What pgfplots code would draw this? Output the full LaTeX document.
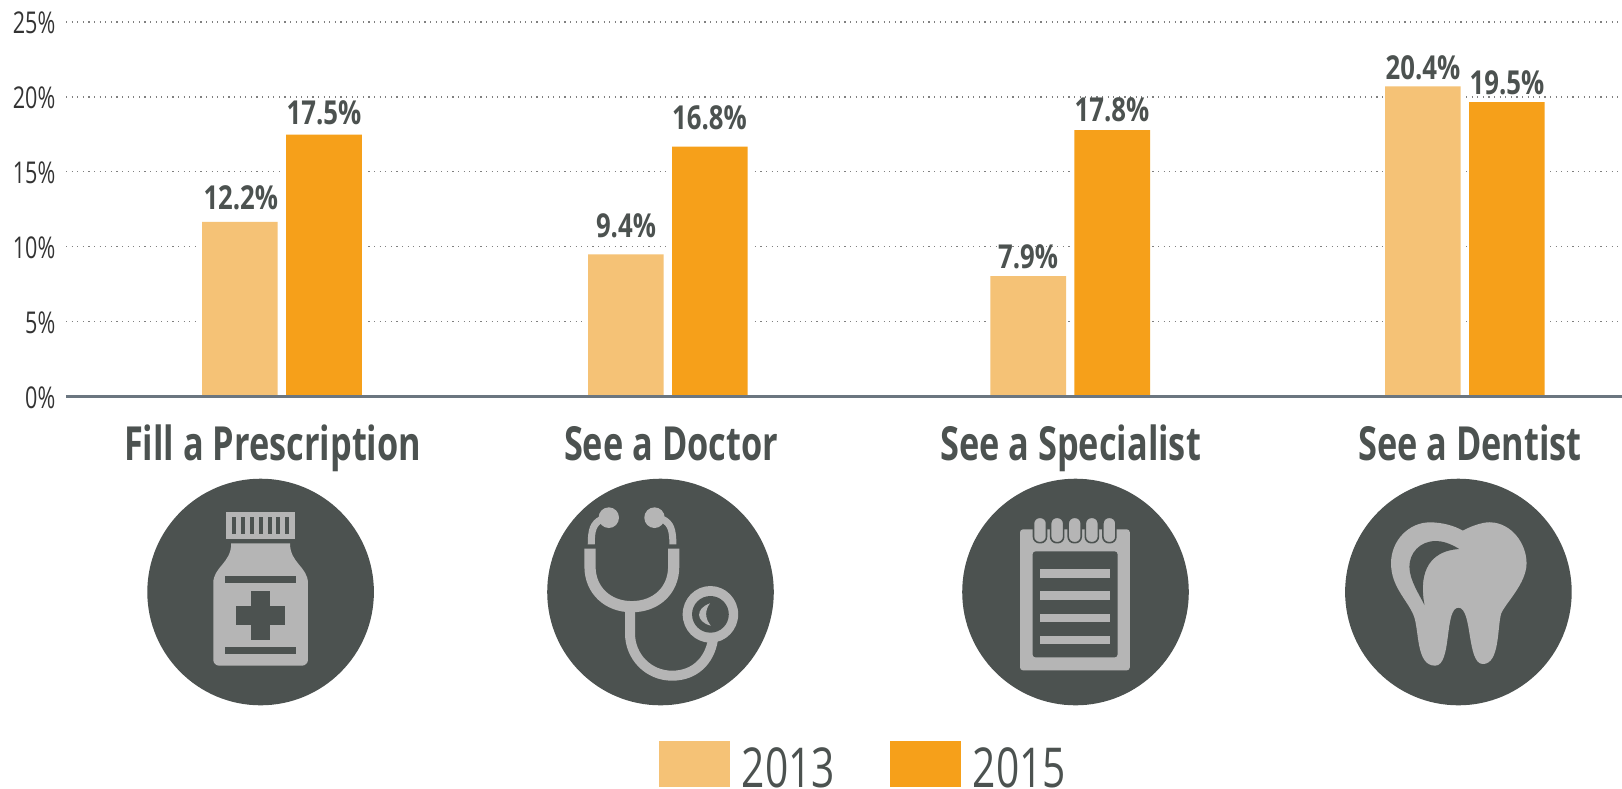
\documentclass[border=0pt]{standalone}
\usepackage{fontspec}
\usepackage{pgfplots}
\usepackage{pgfplotstable}
\pgfplotsset{compat=1.18}
\setmainfont{Open Sans}
\newfontfamily\tickfont[FakeStretch=0.72]{Open Sans}
\newfontfamily\catfont[FakeStretch=0.73]{Open Sans}
\newfontfamily\valfont[FakeStretch=0.78]{Open Sans}
\newfontfamily\legfont[FakeStretch=0.74]{Open Sans}
\definecolor{dark}{HTML}{4C5250}
\definecolor{lite}{HTML}{B5B5B5}
\definecolor{cA}{HTML}{F5C276}
\definecolor{cB}{HTML}{F6A01A}
\definecolor{axisc}{HTML}{6B7680}
\pgfplotstableread{
x y
239.85 11.66
625.85 9.50
1028.15 8.05
1422.85 20.71
}\tblA
\pgfplotstableread{
x y
324.0 17.48
709.85 16.68
1112.15 17.79
1506.85 19.66
}\tblB
\pgfplotstableread{
x y lab
240.8 12.52 12.2
324.0 18.13 17.5
626.0 10.64 9.4
709.5 17.84 16.8
1028.0 8.54 7.9
1112.0 18.39 17.8
1423.0 21.18 20.4
1507.0 20.18 19.5
}\tblL
\begin{document}
\begin{tikzpicture}
\path[use as bounding box] (0,0) rectangle (811pt,-394pt);
\begin{axis}[
  at={(33pt,-198.35pt)}, anchor=south west,
  scale only axis, width=778pt, height=187.35pt,
  xmin=66, xmax=1622, ymin=0, ymax=25,
  axis x line=bottom, axis y line=left,
  x axis line style={-, draw=axisc, line width=1.3pt},
  y axis line style={draw=none},
  tick style={draw=none},
  ytick={0,5,10,15,20,25},
  yticklabels={0\%,5\%,10\%,15\%,20\%,25\%},
  yticklabel style={font=\tickfont\fontsize{15}{16}\selectfont, text=black!80, anchor=east, inner sep=0pt, xshift=-3pt, yshift=-0.5pt},
  xtick={272.6,671,1070.6,1470},
  xticklabels={Fill a Prescription,See a Doctor,See a Specialist,See a Dentist},
  xticklabel style={font=\catfont\bfseries\fontsize{23.5}{24}\selectfont, text=dark, anchor=base, inner sep=0pt, yshift=-30pt},
  ymajorgrids,
  major grid style={draw=black!50, line width=0.6pt, dash pattern=on 0.55pt off 2.25pt},
  legend columns=2,
  legend style={draw=none, fill=none, at={(0.5124,-0.9874)}, anchor=center, inner sep=0pt, outer sep=0pt,
    font=\legfont\fontsize{27.5}{28}\selectfont, text=dark,
    /tikz/every even column/.append style={column sep=24.4pt},
    legend cell align=left},
  legend image code/.code={\fill[#1,draw=none] (0pt,-8.6pt) rectangle (35.5pt,14.4pt); \path (38.6pt,0pt);},
  clip=false,
]
\addplot[ybar, bar width=75.7, bar shift=0pt, fill=cA, draw=none, preaction={draw=white,line width=2pt}] table[x=x,y=y] {\tblA};
\addlegendentry{2013}
\addplot[ybar, bar width=75.7, bar shift=0pt, fill=cB, draw=none, preaction={draw=white,line width=2pt}] table[x=x,y=y] {\tblB};
\addlegendentry{2015}
\addplot[forget plot, draw=none, mark=none, point meta=explicit symbolic,
  nodes near coords={\pgfplotspointmeta\%},
  nodes near coords style={anchor=base, inner sep=0pt, text=dark, font=\valfont\bfseries\fontsize{16.5}{17}\selectfont}]
  table[x=x,y=y,meta=lab] {\tblL};
\end{axis}
\begin{scope}[x=0.5pt,y=-0.5pt]
\draw[axisc,line width=1.3pt] (66,396.7) -- (1622,396.7);
\fill[dark] (260.6,592) circle (113.3);
\fill[dark] (660.5,592) circle (113.3);
\fill[dark] (1075.5,592) circle (113.3);
\fill[dark] (1458.4,592) circle (113.3);
\end{scope}
% bottle (zoom units)
\begin{scope}[shift={(65pt,-230pt)},x=0.20408pt,y=-0.16667pt]
\fill[lite] (235,155) rectangle (405,236);
\foreach \s in {249,271,293,315,337,358,380}{\fill[dark] (\s,170) rectangle (\s+10,222);}
\fill[lite] (248,250) -- (392,250) .. controls (392,310) and (436,320) .. (436,370) [rounded corners=3pt] -- (436,617) -- (204,617) [sharp corners] -- (204,370) .. controls (204,320) and (248,310) .. (248,250) -- cycle;
\fill[dark] (232,349) rectangle (407,370);
\fill[dark] (232,561) rectangle (407,583);
\fill[dark] (296,392) rectangle (343,540);
\fill[dark] (260,437) rectangle (380,495);
\end{scope}
% stethoscope
\begin{scope}[shift={(65pt,-230pt)},x=0.20408pt,y=-0.16667pt]
\fill[lite] (1173,173) ellipse (25 and 31);
\fill[lite] (1285,173) ellipse (25 and 31);
\draw[lite,line width=3.5pt] (1130,253) .. controls (1130,210) and (1135,190) .. (1155,178);
\draw[lite,line width=3.5pt] (1330,253) .. controls (1330,210) and (1325,190) .. (1305,178);
\draw[lite,line width=5.6pt] (1127,266) -- (1127,320) .. controls (1127,390) and (1170,440) .. (1229,440) .. controls (1290,440) and (1332,390) .. (1332,320) -- (1332,266);
\draw[lite,line width=5pt] (1225,445) -- (1225,520) .. controls (1225,590) and (1270,647) .. (1328,647) .. controls (1385,647) and (1420,600) .. (1428,540);
\fill[lite] (1422,463) ellipse (68 and 85);
\fill[dark] (1422,463) ellipse (45 and 55);
\fill[lite] (1421,430) .. controls (1385,445) and (1385,485) .. (1423,497) .. controls (1408,475) and (1408,450) .. (1421,430) -- cycle;
\end{scope}
% notepad
\begin{scope}[shift={(470pt,-230pt)},x=0.20408pt,y=-0.16667pt]
\fill[lite,rounded corners=1.5pt] (196,208) rectangle (465,631);
\fill[dark,rounded corners=1.5pt] (227,274) rectangle (435,592);
\foreach \s in {327,394,461,527}{\fill[lite] (244,\s) rectangle (417,\s+26);}
\foreach \s in {245,287,330,372,415}{\draw[dark,fill=lite,line width=0.8pt,rounded corners=3pt] (\s-16,172) rectangle (\s+16,248);}
\end{scope}
% tooth
\begin{scope}[shift={(470pt,-230pt)},x=0.20408pt,y=-0.16667pt]
\fill[lite] (1281,212) .. controls (1310,192) and (1340,185) .. (1350,187)
 .. controls (1400,190) and (1437,250) .. (1437,310)
 .. controls (1437,370) and (1385,430) .. (1375,460)
 .. controls (1365,500) and (1372,612) .. (1330,612)
 .. controls (1290,612) and (1305,443) .. (1270,443)
 .. controls (1235,443) and (1255,617) .. (1213,617)
 .. controls (1165,617) and (1175,510) .. (1160,465)
 .. controls (1145,420) and (1105,380) .. (1105,310)
 .. controls (1105,240) and (1150,187) .. (1200,187)
 .. controls (1230,187) and (1260,197) .. (1281,212) -- cycle;
\fill[dark] (1272,267) .. controls (1250,250) and (1230,243) .. (1215,243) .. controls (1175,243) and (1150,280) .. (1150,320) .. controls (1150,360) and (1175,405) .. (1187,435) .. controls (1180,390) and (1170,275) .. (1272,267) -- cycle;
\end{scope}
\end{tikzpicture}
\end{document}
